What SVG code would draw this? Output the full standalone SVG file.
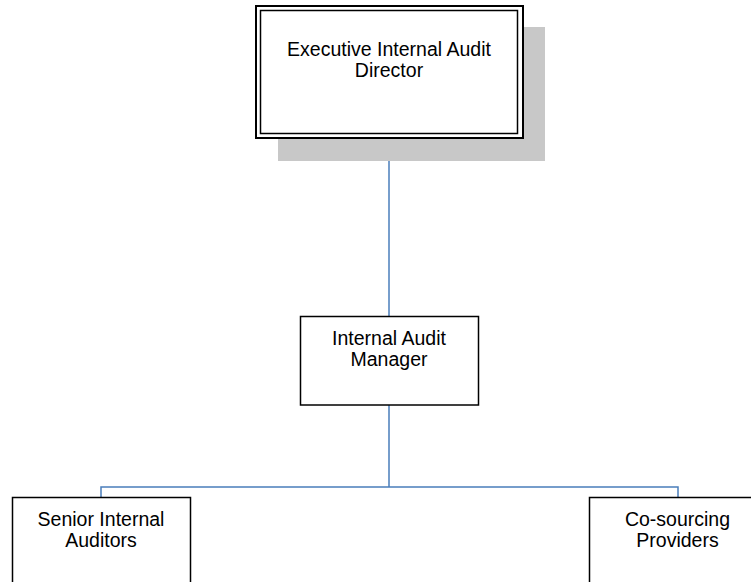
<svg xmlns="http://www.w3.org/2000/svg" width="751" height="582" viewBox="0 0 751 582">
<style>
.box{fill:#fff;stroke:#000;stroke-width:1.5}
.lbl{font-family:"Liberation Sans",Arial,sans-serif;font-size:19.5px;fill:#000;text-anchor:middle}
.conn{fill:none;stroke:#4a7ebb;stroke-width:1.5}
</style>
<rect width="751" height="582" fill="#fff"/>
<g id="connectors">
<path class="conn" d="M389 138V316"/>
<path class="conn" d="M389 405V487M101 497V487H678V497"/>
</g>
<g id="director">
<rect x="278" y="27" width="267" height="134" fill="#c8c8c8"/>
<rect x="256" y="6" width="267" height="132" fill="#fff" stroke="#000" stroke-width="2"/>
<rect x="260.5" y="10.5" width="257" height="123" fill="none" stroke="#000" stroke-width="1.5"/>
<text class="lbl" x="389" y="56">Executive Internal Audit</text>
<text class="lbl" x="389" y="77">Director</text>
</g>
<g id="manager">
<rect class="box" x="300.5" y="316.5" width="178" height="88.5"/>
<text class="lbl" x="389" y="344.5">Internal Audit</text>
<text class="lbl" x="389" y="366">Manager</text>
</g>
<g id="senior">
<rect class="box" x="12.5" y="497.5" width="178" height="95"/>
<text class="lbl" x="101" y="525.5">Senior Internal</text>
<text class="lbl" x="101" y="547">Auditors</text>
</g>
<g id="cosourcing">
<rect class="box" x="589.5" y="497.5" width="178" height="95"/>
<text class="lbl" x="677.5" y="525.5">Co-sourcing</text>
<text class="lbl" x="677.5" y="547">Providers</text>
</g>
</svg>
